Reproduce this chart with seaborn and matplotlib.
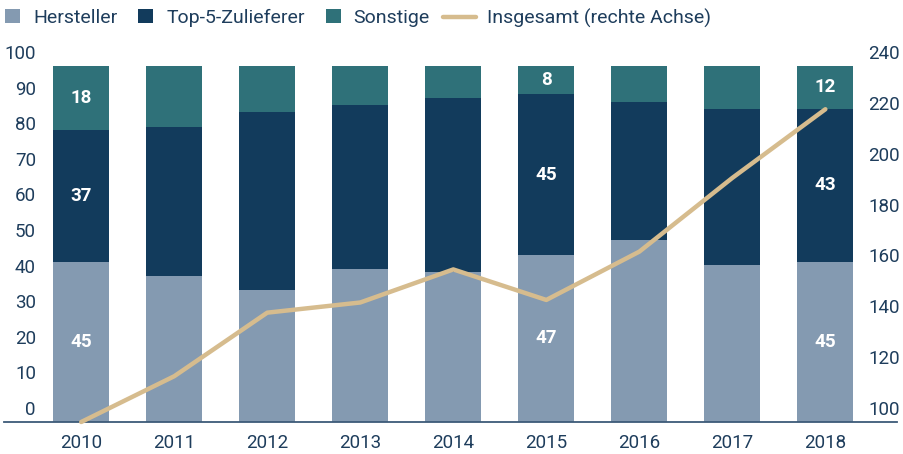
import numpy as np
import pandas as pd
import matplotlib
matplotlib.use("Agg")
import matplotlib.pyplot as plt
import seaborn as sns
from matplotlib.transforms import ScaledTranslation
from matplotlib.lines import Line2D
from matplotlib.patches import Patch

# ---- data ----
years = ["2010", "2011", "2012", "2013", "2014", "2015", "2016", "2017", "2018"]
hersteller = [45, 41, 37, 43, 42, 47, 51, 44, 45]
top5 = [37, 42, 50, 46, 49, 45, 39, 44, 43]
sonstige = [18, 17, 13, 11, 9, 8, 10, 12, 12]
insgesamt = [100, 118, 143, 147, 160, 148, 167, 196, 223]
labelled_years = ["2010", "2015", "2018"]
left_ticks = [0, 10, 20, 30, 40, 50, 60, 70, 80, 90, 100]
right_ticks = [100, 120, 140, 160, 180, 200, 220, 240]
series_names = ["Hersteller", "Top-5-Zulieferer", "Sonstige", "Insgesamt (rechte Achse)"]

# ---- style ----
C_H = "#849AB1"
C_T = "#123B5C"
C_S = "#2F7179"
C_L = "#D6BC8E"
C_TXT = "#1E3D5C"
C_AX = "#3D5A78"
FS = 13.5
LFS = 14

sns.set_theme(style="white")
plt.rcParams["font.family"] = ["Roboto", "DejaVu Sans"]

W, H = 904, 454
fig = plt.figure(figsize=(W / 100, H / 100), dpi=100)
ax = fig.add_axes([4 / W, 32 / H, 893 / W, 356 / H])

df = pd.DataFrame({"year": years, "h": hersteller, "t": top5, "s": sonstige})
df["ht"] = df["h"] + df["t"]
df["total"] = df["ht"] + df["s"]

for col, c in [("total", C_S), ("ht", C_T), ("h", C_H)]:
    sns.barplot(data=df, x="year", y=col, order=years, color=c, width=0.6,
                saturation=1, errorbar=None, ax=ax, linewidth=0)

ax.set_xlim(-0.83, len(years) - 1 + 0.77)
ax.set_ylim(0, 100)
ax.set_xlabel("")
ax.set_ylabel("")
ax.set_yticks([])
ax.tick_params(axis="x", length=0, pad=9, labelsize=FS, labelcolor=C_TXT)
for s in ["top", "left", "right"]:
    ax.spines[s].set_visible(False)
ax.spines["bottom"].set_color(C_AX)
ax.spines["bottom"].set_linewidth(1.3)

# in-bar labels
for i, y in enumerate(years):
    if y in labelled_years:
        h, t, s = hersteller[i], top5[i], sonstige[i]
        for yy, v in [(h / 2, h), (h + t / 2, t), (h + t + s / 2, s)]:
            ax.text(i, yy, str(v), ha="center", va="center", color="white",
                    fontsize=FS, fontweight="bold")

# left axis labels (drawn inside, shifted up)
tl = ax.get_yaxis_transform() + ScaledTranslation(32 / 100, 12 / 100, fig.dpi_scale_trans)
for v in left_ticks:
    ax.text(0, v, str(v), transform=tl, ha="right", va="center", color=C_TXT,
            fontsize=FS, clip_on=False)

# line on right axis
ax2 = ax.twinx()
sns.lineplot(x=np.arange(len(years)), y=insgesamt, ax=ax2, color=C_L, linewidth=3.2,
             solid_capstyle="round", clip_on=False)
ax2.set_ylim(100, 240)
ax2.set_yticks([])
ax2.set_ylabel("")
for s in ax2.spines.values():
    s.set_visible(False)

tr = ax2.get_yaxis_transform() + ScaledTranslation(-29 / 100, 12 / 100, fig.dpi_scale_trans)
for v in right_ticks:
    ax2.text(1, v, str(v), transform=tr, ha="left", va="center", color=C_TXT,
             fontsize=FS, clip_on=False)

# legend (squares)
px = LFS * 100 / 72  # font size in pixels
sq_handles = [Patch(facecolor=C_H, edgecolor="none"),
              Patch(facecolor=C_T, edgecolor="none"),
              Patch(facecolor=C_S, edgecolor="none")]
leg1 = fig.legend(sq_handles, series_names[:3], loc="center left",
                  bbox_to_anchor=(5 / W, 1 - 18 / H), ncol=3, frameon=False, fontsize=LFS,
                  handlelength=15 / px, handleheight=14 / px, handletextpad=13 / px,
                  columnspacing=21 / px, borderaxespad=0, borderpad=0)
for t in leg1.get_texts():
    t.set_color(C_TXT)

# legend (line)
leg2 = fig.legend([Line2D([0], [0], color=C_L, linewidth=3.2)], series_names[3:],
                  loc="center left", bbox_to_anchor=(443 / W, 1 - 18 / H), frameon=False,
                  fontsize=LFS, handlelength=33 / px, handletextpad=11 / px,
                  borderaxespad=0, borderpad=0)
for t in leg2.get_texts():
    t.set_color(C_TXT)

fig.savefig("out.png", dpi=100)
